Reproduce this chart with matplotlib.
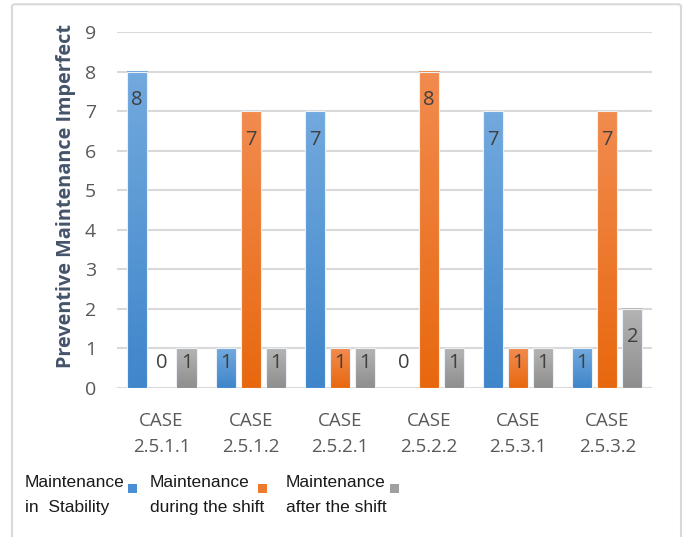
import numpy as np
import matplotlib
matplotlib.use("Agg")
import matplotlib.pyplot as plt
from matplotlib.patches import FancyBboxPatch, Rectangle
from matplotlib.colors import LinearSegmentedColormap

cases = ["CASE\n2.5.1.1", "CASE\n2.5.1.2", "CASE\n2.5.2.1",
         "CASE\n2.5.2.2", "CASE\n2.5.3.1", "CASE\n2.5.3.2"]
in_stability = [8, 1, 7, 0, 7, 1]
during_shift = [0, 7, 1, 8, 1, 7]
after_shift = [1, 1, 1, 1, 1, 2]
series_names = ["Maintenance\nin  Stability", "Maintenance\nduring the shift",
                "Maintenance\nafter the shift"]

# top / bottom colours of each gradient fill
grads = [("#72A9DE", "#3F86CB"), ("#F28B4E", "#E8680F"), ("#B4B4B4", "#8E8E8E")]
solid = ["#4A8FD4", "#EE7A2E", "#A0A0A0"]

plt.rcParams['font.family'] = ['Open Sans', 'DejaVu Sans']

fig = plt.figure(figsize=(6.92, 5.37), dpi=100)
ax = fig.add_axes([0.169, 0.2775, 0.773, 0.6625])

# light frame round the whole chart
frame = FancyBboxPatch((12 / 692, -0.1), 669 / 692, 1.092, transform=fig.transFigure,
                       boxstyle="round,pad=0,rounding_size=0.004",
                       facecolor="none", edgecolor="#D9D9D9", lw=1.5)
fig.patches.append(frame)

x = np.arange(len(cases))
w = 0.225
step = 0.28
data = [in_stability, during_shift, after_shift]

for i, vals in enumerate(data):
    xs = x + (i - 1) * step
    bars = ax.bar(xs, vals, w, color="none", edgecolor="none", zorder=3)
    cmap = LinearSegmentedColormap.from_list("g%d" % i, [grads[i][1], grads[i][0]])
    for b, v in zip(bars, vals):
        if v > 0:
            x0 = b.get_x()
            ax.imshow(np.linspace(0, 1, 64).reshape(-1, 1), cmap=cmap, origin="lower",
                      extent=(x0, x0 + b.get_width(), 0, b.get_height()),
                      aspect="auto", zorder=3)
            ax.add_patch(Rectangle((x0, 0), b.get_width(), b.get_height(),
                                   fill=False, edgecolor="#EAF0F6", lw=0.8, zorder=4))
        # label sits just under the bar top, never lower than the "1" row
        ax.text(b.get_x() + b.get_width() / 2, max(v - 0.72, 0.63), str(v),
                ha="center", va="center", fontsize=14.5, color="#404040", zorder=5)

ax.set_aspect("auto")
ax.set_xlim(-0.5, len(cases) - 0.5)
ax.set_ylim(0, 9)
ax.set_yticks(range(0, 10))
ax.set_xticks(x)
ax.set_xticklabels(cases, fontsize=13.5, color="#595959", linespacing=1.6)
ax.tick_params(axis="y", labelsize=14, labelcolor="#595959", length=0, pad=15)
ax.tick_params(axis="x", length=0, pad=17)
ax.grid(axis="y", color="#D9D9D9", lw=1.5, zorder=0)
ax.set_axisbelow(True)
for s in ax.spines.values():
    s.set_visible(False)
ax.set_ylabel("Preventive Maintenance Imperfect", fontsize=14.3, fontweight="bold",
              color="#44546A")
ax.yaxis.set_label_coords(-0.077, 0.54)

# legend: text first, colour square after it
leg_x = [25, 150, 286]
sq_x = [128, 258, 390]
for i in range(3):
    fig.text(leg_x[i] / 692, 1 - 475 / 537, series_names[i], ha="left", va="top",
             fontsize=12.5, color="#1A1A1A", linespacing=1.85,
             family=["Liberation Sans Narrow", "Liberation Sans", "DejaVu Sans"])
    fig.patches.append(Rectangle((sq_x[i] / 692, 1 - 493 / 537), 9 / 692, 9 / 537,
                                 transform=fig.transFigure, facecolor=solid[i],
                                 edgecolor="none"))

fig.savefig("out.png", dpi=100)
